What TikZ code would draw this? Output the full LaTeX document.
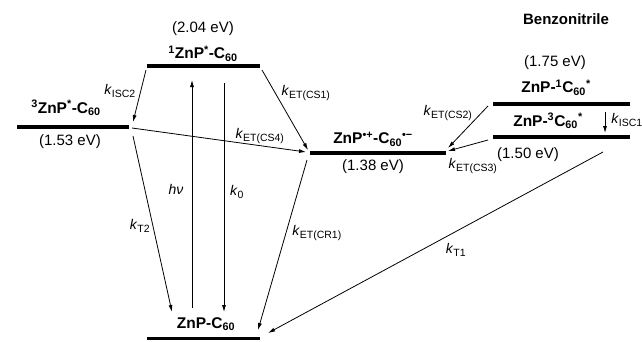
\documentclass[tikz,border=0pt]{standalone}
\usepackage{fontspec}
\setmainfont{Liberation Sans}
\usetikzlibrary{arrows.meta}
\tikzset{
  level/.style={line width=3.6pt},
  rate/.style={line width=0.8pt,-{Latex[length=7pt,width=4pt]}},
  state/.style={font=\fontsize{15.5}{16}\selectfont\bfseries,inner sep=0pt},
  energy/.style={font=\fontsize{15}{16}\selectfont,inner sep=0pt},
  klabel/.style={font=\fontsize{14}{15}\selectfont,inner sep=0pt},
}
\newcommand{\kk}[1]{\textit{k}\textsubscript{\fontsize{10.5}{11}\selectfont #1}}
\begin{document}
\begin{tikzpicture}[x=1pt,y=-1pt]
\useasboundingbox (0,0) rectangle (642,341);
% levels
\coordinate (S1l) at (147,66); \coordinate (S1r) at (260,66);
\coordinate (T2l) at (17,127); \coordinate (T2r) at (129,127);
\coordinate (CSl) at (310,153); \coordinate (CSr) at (446,153);
\coordinate (C1l) at (493,104); \coordinate (C1r) at (630,104);
\coordinate (C3l) at (493,137); \coordinate (C3r) at (630,137);
\coordinate (Gl) at (147,338.5); \coordinate (Gr) at (260,338.5);
\draw[level] (S1l) -- (S1r);
\draw[level] (T2l) -- (T2r);
\draw[level] (CSl) -- (CSr);
\draw[level] (C1l) -- (C1r);
\draw[level] (C3l) -- (C3r);
\draw[level] (Gl) -- (Gr);
% state labels
\node[energy] (e204) at (203,29) {(2.04 eV)};
\node[state] (s1) at (203,54) {\textsuperscript{1}ZnP\textsuperscript{*}-C\textsubscript{60}};
\node[state] (t2) at (66,108) {\textsuperscript{3}ZnP\textsuperscript{*}-C\textsubscript{60}};
\node[energy] (e153) at (70,142) {(1.53 eV)};
\node[state,font=\fontsize{15}{16}\selectfont\bfseries] (bn) at (566,19) {Benzonitrile};
\node[energy] (e175) at (555,63) {(1.75 eV)};
\node[state] (c1) at (556,88) {ZnP-\textsuperscript{1}C\textsubscript{60}\textsuperscript{*}};
\node[state] (c3) at (548,121) {ZnP-\textsuperscript{3}C\textsubscript{60}\textsuperscript{*}};
\node[energy] (e150) at (528,155) {(1.50 eV)};
\node[state] (cs) at (373,139) {ZnP\textsuperscript{•+}-C\textsubscript{60}\textsuperscript{•−}};
\node[energy] (e138) at (373,167) {(1.38 eV)};
\node[state] (g) at (206,324) {ZnP-C\textsubscript{60}};
% rate labels
\node[klabel] (lisc2) at (120,91) {\kk{ISC2}};
\node[klabel] (lcs1) at (306,93) {\kk{ET(CS1)}};
\node[klabel] (lcs4) at (260,136) {\kk{ET(CS4)}};
\node[klabel] (lcs2) at (448,113) {\kk{ET(CS2)}};
\node[klabel] (lcs3) at (473,166) {\kk{ET(CS3)}};
\node[klabel] (lisc1) at (627,120) {\kk{ISC1}};
\node[klabel] (lhv) at (176,189) {\textit{hν}};
\node[klabel] (lk0) at (237,192) {\kk{0}};
\node[klabel] (lt2) at (140,226) {\kk{T2}};
\node[klabel] (lcr1) at (317,233) {\kk{ET(CR1)}};
\node[klabel] (lt1) at (456,250) {\kk{T1}};
% arrow end points
\coordinate (a1) at (146,70);  \coordinate (b1) at (133,122);
\coordinate (a2) at (192,308); \coordinate (b2) at (192,80);
\coordinate (a3) at (224,83);  \coordinate (b3) at (224,312);
\coordinate (a4) at (262,70);  \coordinate (b4) at (308,150);
\coordinate (a5) at (132,128); \coordinate (b5) at (306,152);
\coordinate (a6) at (133,136); \coordinate (b6) at (172,312);
\coordinate (a7) at (307,160); \coordinate (b7) at (258,330);
\coordinate (a8) at (603,152); \coordinate (b8) at (268,333);
\coordinate (a9) at (488,106); \coordinate (b9) at (448,148);
\coordinate (a10) at (488,140); \coordinate (b10) at (448,151);
\coordinate (a11) at (605,112); \coordinate (b11) at (605,133);
\draw[rate] (a1) -- (b1);
\draw[rate] (a2) -- (b2);
\draw[rate] (a3) -- (b3);
\draw[rate] (a4) -- (b4);
\draw[rate] (a5) -- (b5);
\draw[rate] (a6) -- (b6);
\draw[rate] (a7) -- (b7);
\draw[rate] (a8) -- (b8);
\draw[rate] (a9) -- (b9);
\draw[rate] (a10) -- (b10);
\draw[rate] (a11) -- (b11);
\end{tikzpicture}
\end{document}
